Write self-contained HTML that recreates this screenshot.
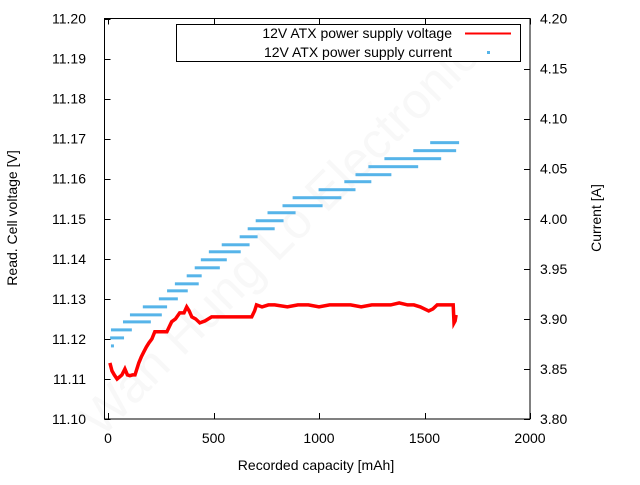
<!DOCTYPE html>
<html><head><meta charset="utf-8"><style>
body{margin:0;background:#fff}
svg text{font-family:"Liberation Sans",sans-serif;font-size:14px;fill:#000}
</style></head><body>
<svg id="chart" width="640" height="480" viewBox="0 0 640 480" xmlns="http://www.w3.org/2000/svg">
<rect width="640" height="480" fill="#fff"/>
<text x="300" y="240" transform="rotate(-45 300 240)" text-anchor="middle" style="font-size:50px;fill:#f8f8f8">Wan Hung Lo Electronics</text>
<g id="marks"></g>
<g id="axes"></g>
<g>
<rect x="176.5" y="24.5" width="344" height="37" fill="#fff" stroke="#000" stroke-width="1"/>
<text x="452" y="38" text-anchor="end">12V ATX power supply voltage</text>
<line x1="465" y1="33.5" x2="511" y2="33.5" stroke="#ff0000" stroke-width="2"/>
<text x="452" y="57" text-anchor="end">12V ATX power supply current</text>
<rect x="487" y="51" width="3" height="3" fill="#56b4e9"/>
</g>
<text x="316" y="470" text-anchor="middle">Recorded capacity [mAh]</text>
<text transform="translate(17,218) rotate(-90)" text-anchor="middle">Read. Cell voltage [V]</text>
<text transform="translate(601,218) rotate(-90)" text-anchor="middle">Current [A]</text>
</svg>
<script>
const xTicks=[0,500,1000,1500,2000];
const yLeftTicks=[11.10,11.11,11.12,11.13,11.14,11.15,11.16,11.17,11.18,11.19,11.20];
const yRightTicks=[3.80,3.85,3.90,3.95,4.00,4.05,4.10,4.15,4.20];
// voltage series
const vCap=[9,19,30,43,55,66,80,92,104,116,128,146,158,170,182,194,208,222,250,279,290,302,320,340,360,373,385,397,415,435,460,491,560,620,681,695,704,730,760,790,850,900,950,1000,1050,1100,1150,1200,1250,1300,1340,1380,1420,1450,1480,1500,1520,1540,1560,1580,1600,1620,1636,1640,1645,1650];
const vVal=[11.114,11.112,11.111,11.110,11.1105,11.111,11.1125,11.111,11.1108,11.111,11.111,11.114,11.1155,11.1168,11.118,11.119,11.120,11.1218,11.1218,11.1218,11.123,11.1243,11.125,11.1265,11.1265,11.128,11.127,11.1255,11.125,11.124,11.1245,11.1255,11.1255,11.1255,11.1255,11.127,11.1285,11.128,11.1285,11.1285,11.128,11.1285,11.1285,11.128,11.1285,11.1285,11.1285,11.128,11.1285,11.1285,11.1285,11.129,11.1285,11.1285,11.128,11.1275,11.127,11.1275,11.1285,11.1285,11.1285,11.1285,11.1285,11.124,11.1245,11.126];
// current series: segments of constant reading
const iStart=[14,10,14,71,104,165,241,280,317,373,411,440,478,539,624,662,700,756,827,875,998,1120,1173,1234,1310,1447,1527];
const iEnd=[18,76,113,203,255,280,331,378,430,444,530,563,629,671,709,790,832,889,1017,1106,1173,1248,1343,1470,1579,1650,1664];
const iVal=[3.873,3.881,3.889,3.897,3.904,3.912,3.920,3.928,3.935,3.943,3.951,3.959,3.967,3.974,3.982,3.990,3.998,4.006,4.013,4.021,4.029,4.037,4.044,4.052,4.060,4.068,4.076];
const L=104.5,R=530,T=18.5,B=419;
const x0=108;
function xs(v){return x0+v*(R-x0)/2000;}
function yl(v){return B-(v-11.10)*(B-T)/0.10;}
function yr(v){return B-(v-3.80)*(B-T)/0.40;}
const NS='http://www.w3.org/2000/svg';
function mk(tag,attrs,parent){const e=document.createElementNS(NS,tag);for(const k in attrs)e.setAttribute(k,attrs[k]);parent.appendChild(e);return e;}
const marks=document.getElementById('marks'),axes=document.getElementById('axes');
for(let i=0;i<iVal.length;i++){
  const r=mk('rect',{x:xs(iStart[i]),y:yr(iVal[i])-1.5,width:Math.max(3,xs(iEnd[i])-xs(iStart[i])),height:3,fill:'#56b4e9'},marks);
  
  
}
let d='';
for(let i=0;i<vCap.length;i++){d+=(i?'L':'M')+xs(vCap[i]).toFixed(1)+' '+yl(vVal[i]).toFixed(1);}
const vl=mk('path',{d:d,fill:'none',stroke:'#ff0000','stroke-width':3.5,'stroke-linejoin':'miter'},marks);


const fr=mk('rect',{x:L,y:T,width:R-L,height:B-T,fill:'none',stroke:'#000','stroke-width':1},axes);


xTicks.forEach(v=>{
  const x=Math.round(xs(v))+0.5;
  mk('line',{x1:x,y1:B,x2:x,y2:B-6,stroke:'#000'},axes);
  mk('line',{x1:x,y1:T,x2:x,y2:T+6,stroke:'#000'},axes);
  const t=mk('text',{x:xs(v),y:B+24,'text-anchor':'middle'},axes);t.textContent=v;
  
  
});
yLeftTicks.forEach(v=>{
  const y=Math.round(yl(v))+0.5;
  mk('line',{x1:L,y1:y,x2:L+6,y2:y,stroke:'#000'},axes);
  const t=mk('text',{x:86,y:yl(v)+5,'text-anchor':'end'},axes);t.textContent=v.toFixed(2);
  
  
});
yRightTicks.forEach(v=>{
  const y=Math.round(yr(v))+0.5;
  mk('line',{x1:R,y1:y,x2:R-6,y2:y,stroke:'#000'},axes);
  const t=mk('text',{x:540,y:yr(v)+5,'text-anchor':'start'},axes);t.textContent=v.toFixed(2);
  
  
});
</script>
</body></html>
